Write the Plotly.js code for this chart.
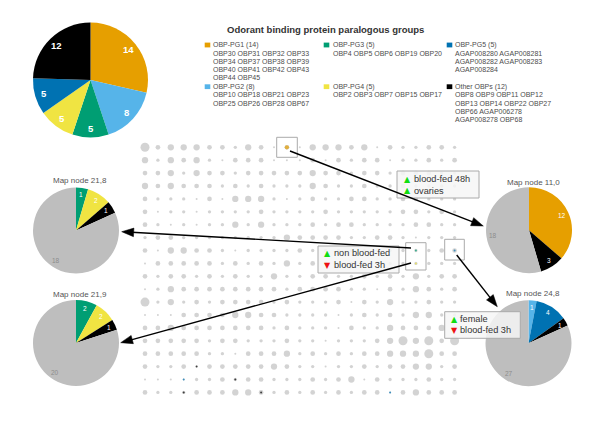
<!DOCTYPE html>
<html><head><meta charset="utf-8">
<script src="https://cdn.plot.ly/plotly-3.0.1.min.js"></script>
<style>html,body{margin:0;padding:0;background:#fff}#chart{width:600px;height:424px}</style>
</head><body><div id="chart"></div>
<script>
// ---------------- DATA ----------------
const chartTitle = 'Odorant binding protein paralogous groups';
const groupNames = ['OBP-PG1','OBP-PG2','OBP-PG3','OBP-PG4','OBP-PG5','Other OBPs'];
const groupCounts = [14, 8, 5, 5, 5, 12];
const groupColors = ['#E69F00','#56B4E9','#009E73','#F0E442','#0072B2','#000000'];
const groupMemberLines = [
  ['OBP30 OBP31 OBP32 OBP33','OBP34 OBP37 OBP38 OBP39','OBP40 OBP41 OBP42 OBP43','OBP44 OBP45'],
  ['OBP10 OBP18 OBP21 OBP23','OBP25 OBP26 OBP28 OBP67'],
  ['OBP4 OBP5 OBP6 OBP19 OBP20'],
  ['OBP2 OBP3 OBP7 OBP15 OBP17'],
  ['AGAP008280 AGAP008281','AGAP008282 AGAP008283','AGAP008284'],
  ['OBP8 OBP9 OBP11 OBP12','OBP13 OBP14 OBP22 OBP27','OBP66 AGAP006278','AGAP008278 OBP68']
];
const unassignedColor = '#BEBEBE';

// map-node pies: counts per group (PG1..PG5, Other) + unassigned genes
const nodeTitles = ['Map node 21,8','Map node 21,9','Map node 11,0','Map node 24,8'];
const nodeCounts = [
  [0,0,1,2,0,1,18],
  [0,0,2,2,0,1,20],
  [12,0,0,0,0,3,18],
  [0,1,0,0,4,1,27]
];

// SOM grid: 25 columns x 20 rows, node size code (1 tiny .. 5 very large)
const nodeSizeCodes = [
  '5344433243131444341322332',
  '4243421333111313233122323',
  '3342433233333433233233322',
  '4343332323222432232232222',
  '3222131444212322332233222',
  '3122122223222232222233232',
  '3212122424222323322223322',
  '2332222222243333223321222',
  '3144332122223222222222233',
  '1333332323242322222222222',
  '3233232322422332232324233',
  '1243333333323333221324323',
  '5242323333232223132422322',
  '1113333443322221232324422',
  '3343333333232221322433342',
  '3333323322232212223454535',
  '3333322133342323233444533',
  '3223133333432212232334423',
  '1111223233222323413222322',
  '3222333443232323233134333'
];
// nodes whose dot carries OBP genes: [column, row, group index]
const accentNodes = [[11,0,0],[4,17,5],[7,18,5],[3,19,5],[9,19,5],[3,18,4],[19,19,4],[21,8,2],[21,9,3],[24,8,4]];

// expression call boxes
const callLabels = [
  [['up','blood-fed 48h'],['up','ovaries']],
  [['up','non blood-fed'],['down','blood-fed 3h']],
  [['up','female'],['down','blood-fed 3h']]
];

// ---------------- LAYOUT HELPERS ----------------
const W = 600, H = 424;
const PX = x => x / W, PY = y => 1 - y / H;
const FONT = 'Liberation Sans, Arial, sans-serif';
const sizeForCode = [0, 2, 3.3, 4.7, 6.3, 9];

const traces = [];
const shapes = [];
const annotations = [];

// grid dots
const gx = [], gy = [], gs = [];
nodeSizeCodes.forEach((row, r) => {
  for (let c = 0; c < row.length; c++) { gx.push(c); gy.push(r); gs.push(sizeForCode[+row[c]]); }
});
traces.push({type:'scatter', mode:'markers', x:gx, y:gy, xaxis:'x', yaxis:'y',
  marker:{size:gs, color:'#C0C0C0', line:{width:0}}, hoverinfo:'skip', showlegend:false});
traces.push({type:'scatter', mode:'markers', x:accentNodes.map(a=>a[0]), y:accentNodes.map(a=>a[1]),
  xaxis:'x', yaxis:'y',
  marker:{size:accentNodes.map(a=> a[2]===0 ? 4.3 : 2), color:accentNodes.map(a=>groupColors[a[2]]), line:{width:0}},
  hoverinfo:'skip', showlegend:false});

// pies (labels placed along each slice's mid-angle, computed from the values)
function addPie(values, colors, labels, textColors, cx, cy, r, fsize, bold, labelFrac) {
  const v=[], c=[], l=[], t=[];
  values.forEach((val,i)=>{ if(val>0){ v.push(val); c.push(colors[i]); l.push(labels[i]); t.push(textColors[i]); } });
  traces.push({type:'pie', values:v, labels:l, sort:false, direction:'clockwise', rotation:0,
    marker:{colors:c, line:{width:0}}, textinfo:'none',
    hoverinfo:'skip', showlegend:false,
    domain:{x:[PX(cx-r), PX(cx+r)], y:[PY(cy+r), PY(cy-r)]}});
  const total = v.reduce((a,b)=>a+b,0);
  let cum = 0;
  v.forEach((val,i)=>{
    const mid = (cum + val/2) / total * 2 * Math.PI;
    cum += val;
    const rr = r * labelFrac;
    annotations.push({xref:'paper', yref:'paper', x:PX(cx + Math.sin(mid)*rr), y:PY(cy - Math.cos(mid)*rr),
      xanchor:'center', yanchor:'middle', showarrow:false, borderpad:0, text: bold ? '<b>'+val+'</b>' : String(val),
      font:{family:FONT, size:fsize, color:t[i]}});
  });
}
addPie(groupCounts, groupColors, groupNames, groupColors.map(()=>'#ffffff'), 90.5, 80, 57.5, 9.5, true, 0.84);
const allColors = groupColors.concat([unassignedColor]);
const allNames = groupNames.concat(['Unassigned']);
const allText = groupColors.map(()=>'#ffffff').concat(['#8c8c8c']);
const nodePiePos = [[76,230.5],[76,343],[529,230.2],[528.5,343.3]];
const nodeTitleY = [181, 294, 182, 293.5];
nodeCounts.forEach((vals,i)=>{
  addPie(vals, allColors, allNames, allText, nodePiePos[i][0], nodePiePos[i][1], 43, 6.5, false, 0.84);
  annotations.push({xref:'paper', yref:'paper', x:PX(nodePiePos[i][0]+4), y:PY(nodeTitleY[i]),
    xanchor:'center', yanchor:'middle', showarrow:false, text:nodeTitles[i],
    font:{family:FONT, size:8, color:'#555'}});
});

// title + legend
annotations.push({xref:'paper', yref:'paper', x:PX(325), y:PY(29), xanchor:'center', yanchor:'middle',
  showarrow:false, text:'<b>'+chartTitle+'</b>', font:{family:FONT, size:9.5, color:'#333'}});
const legCol = [[207.5,212.2],[326.5,331.5],[449.5,454.5]];
const legRowY = [45, 86.7];
const legSlot = [[0,0],[0,1],[1,0],[1,1],[2,0],[2,1]];
const lineStep = 8.2;
groupNames.forEach((name,i)=>{
  const [col,row] = legSlot[i];
  const sx = legCol[col][0], tx = legCol[col][1], y0 = legRowY[row];
  shapes.push({type:'rect', xref:'paper', yref:'paper', x0:PX(sx-2.8), x1:PX(sx+2.8), y0:PY(y0+2.4), y1:PY(y0-2.4),
    fillcolor:groupColors[i], line:{width:0}});
  const lines = [name+' ('+groupCounts[i]+')'].concat(groupMemberLines[i]);
  lines.forEach((ln,k)=>{
    annotations.push({xref:'paper', yref:'paper', x:PX(tx), y:PY(y0+k*lineStep), xanchor:'left', yanchor:'middle',
      showarrow:false, text:ln, borderpad:0, font:{family:FONT, size:7, color:'#4d4d4d'}});
  });
});

// node highlight boxes
const nodeBoxes = [[276.7,137.3,297.3,157.3],[405.7,242.7,426,270],[444.7,239.3,464.3,260]];
nodeBoxes.forEach(b=>shapes.push({type:'rect', xref:'paper', yref:'paper', x0:PX(b[0]), x1:PX(b[2]), y0:PY(b[3]), y1:PY(b[1]),
  line:{color:'#aaaaaa', width:1}, fillcolor:'rgba(0,0,0,0)'}));

// call boxes
const callBoxes = [
  {b:[397,171,479,198], tri:407.7, txt:412.5, ys:[179.3,190.7]},
  {b:[318,246,399,273], tri:327.7, txt:333, ys:[253.3,265]},
  {b:[444.7,311.7,520.3,338.3], tri:454, txt:459, ys:[319.3,330]}
];
callBoxes.forEach((cb,i)=>{
  const b = cb.b;
  shapes.push({type:'rect', xref:'paper', yref:'paper', x0:PX(b[0]), x1:PX(b[2]), y0:PY(b[3]), y1:PY(b[1]),
    line:{color:'#aaaaaa', width:1}, fillcolor:'rgba(246,246,246,0.85)'});
  callLabels[i].forEach((cl,k)=>{
    annotations.push({xref:'paper', yref:'paper', x:PX(cb.tri), y:PY(cb.ys[k]), xanchor:'center', yanchor:'middle',
      showarrow:false, borderpad:0, text: cl[0]==='up' ? '▲' : '▼',
      font:{family:'DejaVu Sans', size:8, color: cl[0]==='up' ? '#11dd11' : '#ee1111'}});
    annotations.push({xref:'paper', yref:'paper', x:PX(cb.txt), y:PY(cb.ys[k]), xanchor:'left', yanchor:'middle',
      showarrow:false, borderpad:0, text:cl[1], font:{family:FONT, size:9.2, color:'#333'}});
  });
});

// arrows
const arrows = [[290,151,483.3,226],[411,248,121.7,231.7],[411,263,120.7,342.7],[456.7,255,497.3,306.7]];
arrows.forEach(a=>{
  const [x0,y0,x1,y1] = a;
  const dx = x1-x0, dy = y1-y0, L = Math.hypot(dx,dy), ux = dx/L, uy = dy/L;
  const hl = 12, hw = 4.3;
  const bx = x1-ux*hl, by = y1-uy*hl;
  shapes.push({type:'line', xref:'paper', yref:'paper', x0:PX(x0), y0:PY(y0), x1:PX(bx+ux*2), y1:PY(by+uy*2),
    line:{color:'#000', width:1.4}});
  const p1 = [bx-uy*hw, by+ux*hw], p2 = [bx+uy*hw, by-ux*hw];
  shapes.push({type:'path', xref:'paper', yref:'paper',
    path:`M${PX(x1)},${PY(y1)} L${PX(p1[0])},${PY(p1[1])} L${PX(p2[0])},${PY(p2[1])} Z`,
    fillcolor:'#000', line:{color:'#000', width:0.5}});
});

const layout = {
  width:W, height:H, margin:{l:0,r:0,t:0,b:0}, paper_bgcolor:'#fff', plot_bgcolor:'rgba(0,0,0,0)',
  showlegend:false, font:{family:FONT},
  xaxis:{domain:[138.55/W, 461.05/W], range:[-0.5,24.5], visible:false, fixedrange:true},
  yaxis:{domain:[PY(398.85), PY(140.85)], range:[19.5,-0.5], visible:false, fixedrange:true},
  shapes:shapes, annotations:annotations
};
Plotly.newPlot('chart', traces, layout, {staticPlot:true, displayModeBar:false});
</script></body></html>
